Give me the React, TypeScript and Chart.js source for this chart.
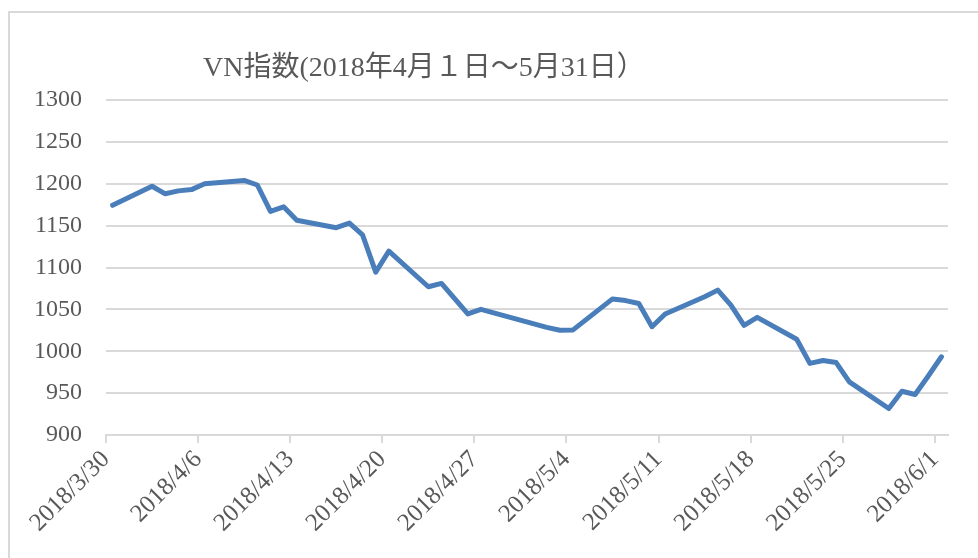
import React, { useEffect, useRef } from 'react';
import { Chart, registerables } from 'chart.js';

Chart.register(...registerables);

const chartTitle = 'VN指数(2018年4月１日～5月31日）';
const startDate = '2018/3/30';
const dayCount = 64;
const tickStep = 7;

const dates = [
  '2018/3/30', '2018/4/2', '2018/4/3', '2018/4/4', '2018/4/5', '2018/4/6',
  '2018/4/9', '2018/4/10', '2018/4/11', '2018/4/12', '2018/4/13',
  '2018/4/16', '2018/4/17', '2018/4/18', '2018/4/19', '2018/4/20',
  '2018/4/23', '2018/4/24', '2018/4/26', '2018/4/27',
  '2018/5/2', '2018/5/3', '2018/5/4',
  '2018/5/7', '2018/5/8', '2018/5/9', '2018/5/10', '2018/5/11',
  '2018/5/14', '2018/5/15', '2018/5/16', '2018/5/17', '2018/5/18',
  '2018/5/21', '2018/5/22', '2018/5/23', '2018/5/24', '2018/5/25',
  '2018/5/28', '2018/5/29', '2018/5/30', '2018/5/31', '2018/6/1',
];

const values = [
  1174.3, 1197, 1188, 1191.5, 1193, 1200,
  1204, 1198.5, 1167, 1172.5, 1156.5,
  1147.5, 1153, 1139, 1094.5, 1119.5,
  1077, 1081, 1044.5, 1050,
  1028.5, 1025, 1025.5,
  1062.5, 1060.5, 1057, 1029.3, 1044.5,
  1065, 1073, 1055, 1031, 1040.5,
  1014.3, 985.5, 989, 986.5, 963.5,
  931.6, 952.3, 948.4, 970.5, 993.4,
];

const xTickLabels = [
  '2018/3/30', '2018/4/6', '2018/4/13', '2018/4/20', '2018/4/27',
  '2018/5/4', '2018/5/11', '2018/5/18', '2018/5/25', '2018/6/1',
];

const yMin = 900;
const yMax = 1300;
const yStep = 50;

function parseDay(s: string): number {
  const [y, m, d] = s.split('/').map(Number);
  return Date.UTC(y, m - 1, d) / 86400000;
}

const TEXT = '#595959';
const GRID = '#d9d9d9';
const FONT = '"Liberation Serif", "Noto Sans CJK JP", serif';

export default function App() {
  const canvasRef = useRef<HTMLCanvasElement | null>(null);

  useEffect(() => {
    if (!canvasRef.current) return;
    const start = parseDay(startDate);
    const points = dates.map((d, i) => ({ x: parseDay(d) - start + 0.5, y: values[i] }));

    const titlePlugin = {
      id: 'manualTitle',
      afterDraw(chart: any) {
        const ctx = chart.ctx;
        ctx.save();
        ctx.font = `28px ${FONT}`;
        ctx.fillStyle = TEXT;
        ctx.textBaseline = 'alphabetic';
        ctx.textAlign = 'left';
        ctx.fillText(chartTitle, 203, 76);
        ctx.restore();
      },
    };

    const chart = new Chart(canvasRef.current, {
      type: 'line',
      data: {
        datasets: [
          {
            label: 'VN指数',
            data: points,
            borderColor: '#4a7ebb',
            backgroundColor: '#4a7ebb',
            borderWidth: 5,
            pointRadius: 0,
            tension: 0,
            borderJoinStyle: 'round',
            borderCapStyle: 'round',
          },
        ],
      },
      options: {
        animation: false,
        responsive: false,
        devicePixelRatio: 1,
        layout: { padding: { left: 20, right: 30, top: 100, bottom: 0 } },
        plugins: {
          legend: { display: false },
          title: { display: false },
          tooltip: { enabled: false },
        },
        scales: {
          x: {
            type: 'linear',
            min: 0,
            max: dayCount,
            afterFit(scale: any) {
              scale.height = 123;
            },
            ticks: {
              stepSize: tickStep,
              includeBounds: false,
              autoSkip: false,
              maxRotation: 45,
              minRotation: 45,
              color: TEXT,
              font: { family: FONT, size: 25 },
              padding: 2,
              callback: (v: any) => {
                const idx = Math.round(Number(v) / tickStep);
                return Number(v) % tickStep === 0 ? xTickLabels[idx] ?? '' : '';
              },
            },
            grid: {
              drawOnChartArea: false,
              drawTicks: true,
              tickLength: 8,
              color: GRID,
              lineWidth: 2,
            },
            border: { display: true, color: GRID, width: 2 },
          },
          y: {
            min: yMin,
            max: yMax,
            afterFit(scale: any) {
              scale.width = 86;
            },
            ticks: {
              stepSize: yStep,
              color: TEXT,
              font: { family: FONT, size: 24 },
              padding: 24,
              callback: (v: any) => String(v),
            },
            grid: {
              color: GRID,
              lineWidth: 2,
              drawTicks: false,
            },
            border: { display: false },
          },
        },
      },
      plugins: [titlePlugin],
    } as any);

    return () => chart.destroy();
  }, []);

  return (
    <div
      style={{
        position: 'fixed',
        left: 0,
        top: 0,
        width: 978,
        height: 558,
        background: '#ffffff',
        overflow: 'hidden',
      }}
    >
      <div
        style={{
          position: 'absolute',
          left: 8,
          top: 11,
          width: 1100,
          height: 700,
          border: `2px solid ${GRID}`,
          boxSizing: 'border-box',
        }}
      />
      <canvas
        ref={canvasRef}
        width={978}
        height={558}
        style={{ position: 'absolute', left: 0, top: 0, display: 'block' }}
      />
    </div>
  );
}
